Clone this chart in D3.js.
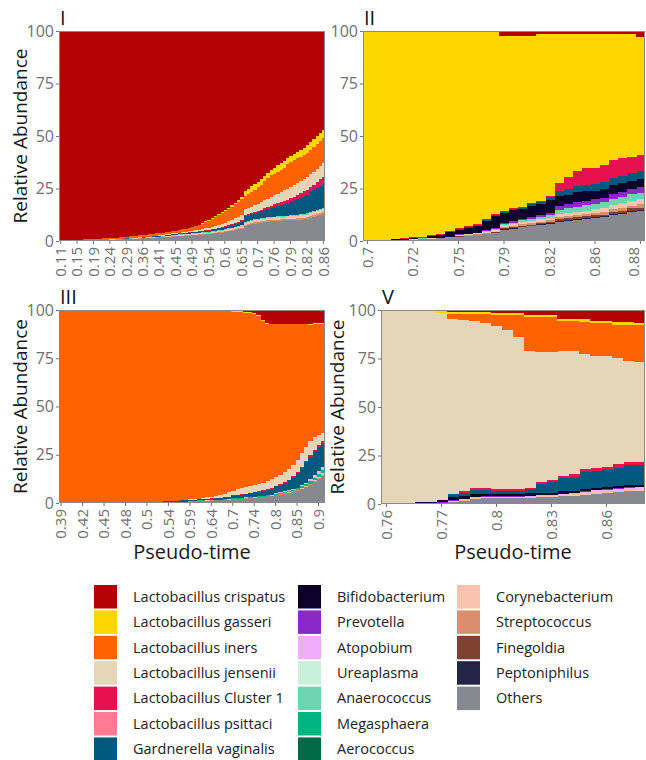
<!DOCTYPE html>
<html>
<head>
<meta charset="utf-8">
<script src="https://d3js.org/d3.v7.min.js"></script>
<style>
body { margin: 0; background: #fff; font-family: 'Open Sans', sans-serif; }
.bar { shape-rendering: crispEdges; }
.axis text { fill: #707070; font-family: 'Open Sans', sans-serif; }
.axis line { stroke: #707070; }
</style>
</head>
<body>
<svg width="646" height="760"></svg>
<script>

// legend order (top of the stack first)
var species = ["Lactobacillus crispatus", "Lactobacillus gasseri", "Lactobacillus iners",
  "Lactobacillus jensenii", "Lactobacillus Cluster 1", "Lactobacillus psittaci",
  "Gardnerella vaginalis", "Bifidobacterium", "Prevotella", "Atopobium", "Ureaplasma",
  "Anaerococcus", "Megasphaera", "Aerococcus", "Corynebacterium", "Streptococcus",
  "Finegoldia", "Peptoniphilus", "Others"];
var colors = ["#b40000", "#ffd700", "#ff6200", "#e6d6b8", "#e8114f", "#ff7a93",
  "#00587e", "#0a0228", "#8a28c8", "#efadfa", "#c9f0db", "#6fd3b1", "#00b482",
  "#006a47", "#f9c3ae", "#d98f6d", "#7f4230", "#242449", "#888891"];

// ---- panel I
var p1_ticks = ["0.11","0.15","0.19","0.24","0.29","0.36","0.41","0.45","0.49","0.54","0.6","0.65","0.7","0.76","0.79","0.82","0.86"];
var p1_others = [0.2,0.2,0.2,0.2,0.3,0.3,0.3,0.3,0.3,0.4, 0.4,0.4,0.5,0.5,0.5,0.6,0.6,0.7,0.7,0.8, 0.8,0.9,1,1,1.1,1.2,1.3,1.4,1.5,1.6, 1.7,1.8,1.9,2,2.1,2.2,2.3,2.4,2.5,2.6, 2.7,2.8,2.9,3,3.1,3.2,3.4,3.6,3.8,4, 4.3,4.6,4.9,5.2,5.5,5.9,7.2,7.6,8,8.3, 8.6,8.8,9,9.2,9.4,9.5,9.6,9.7,9.8,9.9, 10,10,10.1,10.2,10.4,10.6,11,11.5,12,12.5, 13];
var p1_strep = [0,0,0,0,0,0,0,0,0,0, 0,0,0,0,0,0.1,0.1,0.1,0.1,0.1, 0.1,0.1,0.1,0.1,0.1,0.1,0.1,0.1,0.1,0.1, 0.1,0.1,0.1,0.1,0.2,0.2,0.2,0.2,0.2,0.2, 0.2,0.2,0.2,0.3,0.3,0.3,0.3,0.3,0.4,0.4, 0.4,0.4,0.4,0.5,0.5,0.5,0.6,0.6,0.6,0.6, 0.6,0.6,0.6,0.6,0.6,0.6,0.6,0.6,0.6,0.6, 0.7,0.7,0.7,0.7,0.7,0.7,0.7,0.7,0.7,0.7, 0.8];
var p1_coryne = [0.1,0.1,0.1,0.1,0.1,0.1,0.1,0.1,0.1,0.1, 0.1,0.1,0.1,0.1,0.1,0.1,0.1,0.1,0.1,0.1, 0.1,0.1,0.1,0.1,0.1,0.2,0.2,0.2,0.2,0.2, 0.2,0.2,0.2,0.3,0.3,0.3,0.3,0.3,0.4,0.4, 0.4,0.4,0.5,0.5,0.5,0.5,0.6,0.6,0.6,0.6, 0.7,0.7,0.7,0.8,0.8,0.8,1,1,1,1, 1,1,1,1,1.1,1.1,1.1,1.1,1.2,1.2, 1.2,1.2,1.2,1.3,1.3,1.3,1.4,1.4,1.4,1.5, 1.5];
var p1_anaero = [0,0,0,0,0,0,0,0,0,0, 0,0,0,0,0,0,0,0,0,0, 0.1,0.1,0.1,0.1,0.1,0.1,0.1,0.1,0.1,0.1, 0.1,0.1,0.2,0.2,0.2,0.3,0.3,0.3,0.3,0.3, 0.3,0.3,0.3,0.3,0.3,0.3,0.3,0.3,0.3,0.3, 0.3,0.3,0.3,0.3,0.3,0.3,0.4,0.4,0.4,0.4, 0.4,0.4,0.4,0.4,0.4,0.4,0.4,0.4,0.4,0.4, 0.5,0.5,0.5,0.5,0.5,0.5,0.5,0.5,0.5,0.5, 0.5];
var p1_gard = [0,0,0,0,0,0,0,0,0,0, 0,0,0,0,0,0.1,0.1,0.1,0.1,0.1, 0.1,0.1,0.1,0.2,0.2,0.2,0.2,0.2,0.3,0.3, 0.3,0.3,0.3,0.3,0.4,0.4,0.4,0.4,0.5,0.5, 0.5,0.5,0.6,0.6,0.7,0.7,0.8,0.8,0.9,0.9, 1,1.1,1.3,1.4,1.6,1.8,2.5,2.6,2.7,2.8, 3,3.3,3.6,4,4.4,4.8,5.1,5.4,5.8,6.2, 6.5,7,7.5,8,8.5,9,9.5,10,10.5,11, 11.5];
var p1_clus1 = [0,0,0,0,0,0,0,0,0,0, 0,0,0,0,0,0,0,0,0,0, 0,0,0,0,0,0,0,0,0,0, 0.1,0.1,0.1,0.1,0.1,0.1,0.1,0.1,0.1,0.1, 0.2,0.2,0.2,0.2,0.3,0.3,0.3,0.3,0.3,0.3, 0.3,0.4,0.4,0.4,0.5,0.5,0.6,0.6,0.7,0.7, 0.8,0.8,0.9,0.9,1,1,1.1,1.2,1.3,1.4, 1.5,1.6,1.8,2,2.2,2.4,2.6,2.8,3,3.2, 3.3];
var p1_jens = [0,0,0,0,0,0,0,0,0,0, 0,0,0,0,0,0,0,0,0,0, 0.1,0.1,0.1,0.1,0.1,0.1,0.1,0.1,0.1,0.1, 0.2,0.2,0.3,0.3,0.3,0.4,0.4,0.5,0.5,0.6, 0.6,0.7,0.7,0.8,0.9,1,1.1,1.2,1.3,1.4, 1.6,1.8,2,2.2,2.4,2.5,2.8,2.9,3,3.2, 3.4,3.6,3.8,4,4.2,4.4,4.6,4.8,5,5.2, 5.4,5.5,5.6,5.7,5.8,5.9,6,6.1,6.3,6.4, 6.5];
var p1_iners = [0.2,0.2,0.2,0.3,0.2,0.3,0.3,0.4,0.4,0.4, 0.5,0.5,0.5,0.6,0.7,0.5,0.6,0.6,0.8,0.8, 0.7,0.8,0.8,0.9,1,1,1,1.1,1.1,1.2, 1,1.1,1,1.1,1.1,1,1.2,1.3,1.3,1.5, 1.6,2,2.2,2.6,2.9,3.4,3.8,4.5,4.7,5.4, 5.7,5.9,6.4,6.7,7.1,7.7,6.4,6.8,7.1,7.5, 7.7,8.4,9.1,9.7,10.1,10.3,10.5,10.8,10.9,11.6, 11.7,11.9,11.9,11.8,11.7,11.6,11.7,11.8,11.8,11.8, 11.9];
var p1_gasseri = [0,0,0,0,0,0,0,0,0,0, 0,0,0,0,0,0,0,0,0,0, 0,0,0,0,0,0,0,0,0,0, 0.1,0.1,0.1,0.1,0.1,0.1,0.1,0.1,0.1,0.1, 0.1,0.1,0.2,0.2,0.3,0.3,0.4,0.4,0.5,0.5, 0.5,0.6,0.6,0.7,0.8,1,2.5,2.5,2.5,2.5, 2.5,2.6,2.6,2.7,2.8,2.9,3,3,3,3, 3,3.1,3.2,3.3,3.4,3.5,3.6,3.7,3.8,3.9, 4];
var p1_crispatus = [99.5,99.5,99.5,99.4,99.4,99.3,99.3,99.2,99.2,99.1, 99,99,98.9,98.8,98.7,98.6,98.5,98.4,98.2,98.1, 98,97.8,97.7,97.5,97.3,97.1,97,96.8,96.6,96.4, 96.2,96,95.8,95.5,95.2,95,94.7,94.4,94.1,93.7, 93.4,92.8,92.2,91.5,90.7,90,89,88,87.2,86.2, 85.2,84.2,83,81.8,80.5,79,76,75,74,73, 72,70.5,69,67.5,66,65,64,63,62,60.5, 59.5,58.5,57.5,56.5,55.5,54.5,53,51.5,50,48.5, 47];

// ---- panel II
var p2_ticks = ["0.7","0.72","0.75","0.79","0.82","0.86","0.88"];
var p2_others = [0.2,0.2,0.3,0.4,0.5,0.6,0.8,1,1.2,1.6, 2,2.4,2.8,3.3,4, 5.2,5.8,6.5,7,7.6,8.3, 9.2,9.6,10,10.4,10.8,11.2,12.4,13,14,14.4];
var p2_pept = [0,0,0,0,0,0,0,0,0,0, 0,0,0,0,0, 0.3,0.3,0.3,0.3,0.3,0.3, 0.5,0.5,0.5,0.5,0.5,0.5,0.5,0.5,0.5,0.5];
var p2_fineg = [0,0,0,0,0,0,0,0,0,0, 0.2,0.2,0.2,0.2,0.2, 0.5,0.5,0.5,0.5,0.5,0.5, 0.8,0.8,0.8,0.8,0.9,0.9,1,1,1,1];
var p2_strep = [0,0,0,0,0,0.1,0.1,0.1,0.1,0.1, 0.3,0.3,0.3,0.3,0.3, 0.6,0.6,0.7,0.7,0.8,0.8, 1,1,1,1,1.1,1.1,1.2,1.3,1.4,1.5];
var p2_coryne = [0,0,0,0,0,0.2,0.2,0.2,0.2,0.2, 0.4,0.4,0.5,0.5,0.6, 0.8,0.9,1,1,1.1,1.2, 1.5,1.6,1.7,1.8,1.9,2,2.1,2.2,2.3,2.4];
var p2_anaero = [0.2,0.2,0.2,0.2,0.2,0.1,0.1,0.1,0.1,0.1, 0.1,0.1,0.1,0.5,0.5, 0.6,0.7,0.8,0.9,1,1.2, 2,2.2,2.4,2.5,2.6,2.7,2.8,3,3,3.2];
var p2_prevo = [0,0,0,0,0,0,0,0,0,0, 0.1,0.1,0.1,0.3,0.5, 0.5,0.6,0.7,0.8,0.9,1.2, 1.6,1.8,2,2,2.1,2.2,2.3,2.4,2.4,2.5];
var p2_bifido = [0,0,0.2,0.2,0.2,0.2,0.2,1,1.1,2.2, 2.2,2.9,3.3,4.3,5.8, 4.9,5.2,4.7,5.4,5.4,5.8, 4.7,4.6,4.8,4.6,4.1,4.4,4.6,4.2,4.2,4.1];
var p2_gard = [0,0,0,0,0,0,0,0.1,0.2,0.2, 0.3,0.3,0.3,0.4,0.5, 0.6,0.6,0.7,0.8,0.9,1.5, 2.5,2.5,2.8,3,3,3,3.2,3.3,3.4,3.5];
var p2_clus1 = [0,0,0,0,0.3,0.5,0.4,0.3,0.3,0.4, 0.4,0.4,0.4,0.5,0.5, 0.4,0.4,0.4,0.5,0.5,0.6, 4,6,7.5,8,8,8,8.5,8.5,8,8];
var p2_gasseri = [99.6,99.6,99.3,99.2,99,98.5,98.2,97.2,96.8,95.2, 94,92.9,91.4,89.1,86.5, 83.2,82,81.3,79.7,79.4,77, 70.6,67.8,64.9,63.8,63.4,62.4,59.8,59,58.2,56];
var p2_crispatus = [0,0,0,0,0,0,0,0,0,0, 0,0,0.6,0.6,0.6, 2.4,2.4,2.4,2.4,1.6,1.6, 1.6,1.6,1.6,1.6,1.6,1.6,1.6,1.6,1.6,2.9];

// ---- panel III
var p3_ticks = ["0.39","0.42","0.45","0.48","0.5","0.54","0.59","0.64","0.7","0.74","0.8","0.85","0.9"];
var p3_others = [0,0,0,0,0,0,0,0,0,0, 0,0,0,0.1,0.1,0.1,0.1,0.1,0.1,0.1, 0.2,0.2,0.3,0.3,0.4,0.4,0.5,0.5,0.6,0.6, 0.7,0.8,0.9,1,1.1,1.2,1.3,1.4,1.5,1.7, 1.9,2,2.1,2.3,2.5,2.7,2.9,3.1,3.4,3.7, 4,4.4,4.8,5.2,5.8,6.4,7.2,8.2,9.3,10.8, 12.5,14];
var p3_strep = [0,0,0,0,0,0,0,0,0,0, 0,0,0,0,0,0,0,0,0,0, 0,0,0,0,0,0,0,0,0,0, 0.1,0.1,0.1,0.1,0.1,0.1,0.1,0.1,0.1,0.1, 0.1,0.1,0.1,0.1,0.1,0.1,0.1,0.1,0.1,0.1, 0.2,0.2,0.2,0.2,0.2,0.2,0.3,0.3,0.4,0.5, 0.6,0.7];
var p3_coryne = [0,0,0,0,0,0,0,0,0,0, 0,0,0,0,0,0,0,0,0,0, 0,0,0,0,0,0,0,0,0,0, 0.1,0.1,0.1,0.1,0.1,0.1,0.1,0.1,0.1,0.1, 0.1,0.1,0.1,0.1,0.1,0.1,0.1,0.1,0.1,0.1, 0.2,0.2,0.2,0.2,0.2,0.2,0.3,0.3,0.4,0.4, 0.5,0.6];
var p3_megas = [0,0,0,0,0,0,0,0,0,0, 0,0,0,0,0,0,0,0,0,0, 0.1,0.1,0.1,0.1,0.1,0.1,0.1,0.1,0.1,0.1, 0.2,0.2,0.2,0.2,0.2,0.2,0.2,0.2,0.2,0.2, 0.3,0.3,0.3,0.3,0.3,0.3,0.3,0.3,0.3,0.3, 0.5,0.5,0.6,0.6,0.7,0.8,1,1.1,1.3,1.4, 1.6,1.7];
var p3_atop = [0,0,0,0,0,0,0,0,0,0, 0,0,0,0,0,0,0,0,0,0, 0,0,0,0,0,0,0,0,0,0, 0,0,0,0,0,0,0,0,0,0, 0.1,0.1,0.1,0.1,0.1,0.1,0.1,0.1,0.1,0.1, 0.2,0.2,0.3,0.3,0.4,0.4,0.5,0.6,0.8,1.2, 1.6,1.8];
var p3_gard = [0.1,0.1,0.1,0.1,0.1,0.1,0.1,0.1,0.1,0.1, 0.1,0.1,0.2,0.2,0.3,0.3,0.3,0.2,0.2,0.2, 0.1,0.2,0.2,0.3,0.3,0.4,0.4,0.5,0.6,0.7, 0.5,0.5,0.6,0.6,0.7,0.7,0.8,0.9,1,1.1, 1.3,1.4,1.6,1.8,2,2.2,2.4,2.6,2.9,3.2, 3.6,4,4.5,5.2,6,7.5,9,10.5,11.8,12.5, 12.3,12];
var p3_clus1 = [0,0,0,0,0,0,0,0,0,0, 0,0,0,0,0,0,0,0,0,0, 0,0,0,0,0,0,0,0,0,0, 0.1,0.1,0.1,0.1,0.1,0.1,0.1,0.1,0.1,0.1, 0.2,0.2,0.2,0.2,0.2,0.2,0.2,0.2,0.2,0.2, 0.3,0.3,0.4,0.4,0.5,0.5,0.6,0.7,0.8,0.9, 1,1.2];
var p3_jens = [0,0,0,0,0,0,0,0,0,0, 0,0,0,0,0,0,0,0,0,0, 0,0,0,0,0,0,0,0.1,0.1,0.2, 0.2,0.3,0.3,0.5,0.6,0.9,1.1,1.4,1.8,2.2, 2.4,2.8,3.1,3.3,3.5,3.6,3.7,3.9,4.3,4.6, 4.3,4.7,5.2,5.7,5.9,6.5,6.8,7.3,7.2,6.6, 5.1,4.4];
var p3_iners = [99.9,99.9,99.9,99.9,99.9,99.9,99.9,99.9,99.9,99.9, 99.9,99.9,99.8,99.7,99.6,99.6,99.6,99.7,99.7,99.7, 99.6,99.5,99.4,99.3,99.2,99.1,99,98.8,98.6,98.4, 97.8,97.6,97.4,97.1,96.8,96.4,96,95.5,94.9,94.2, 92.8,92,91.3,90.5,89.7,88.7,87.2,84.1,81.6,80.2, 79.2,78,76.3,74.7,72.8,70,66.8,63.5,60.2,58.4, 57.8,56.6];
var p3_gasseri = [0,0,0,0,0,0,0,0,0,0, 0,0,0,0,0,0,0,0,0,0, 0,0,0,0,0,0,0,0,0,0, 0.3,0.3,0.3,0.3,0.3,0.3,0.3,0.3,0.3,0.3, 0.5,0.5,0.5,0.5,0.5,0.5,0.5,0.5,0.5,0.5, 0.5,0.5,0.5,0.5,0.5,0.5,0.5,0.5,0.5,0.5, 0.5,0.5];
var p3_crispatus = [0,0,0,0,0,0,0,0,0,0, 0,0,0,0,0,0,0,0,0,0, 0,0,0,0,0,0,0,0,0,0, 0,0,0,0,0,0,0,0,0,0, 0.3,0.5,0.6,0.8,1,1.5,2.5,5,6.5,7, 7,7,7,7,7,7,7,7,7.3,6.8, 6.5,6.5];

// ---- panel V
var p5_ticks = ["0.76","0.77","0.8","0.83","0.86"];
var p5_others = [0.2,0.2,0.2,0.3,0.4,0.5,1.2,1.8,2.8,3, 3,3,3,3.2,3.4,3.6,4,4.3,4.8,5.2, 5.6,6,6.5,6.7];
var p5_coryne = [0,0,0,0,0,0.1,0.3,0.4,0.5,0.5, 0.5,0.5,0.5,0.6,0.6,0.6,0.7,0.7,0.7,0.8, 0.8,0.8,0.8,0.8];
var p5_atop = [0,0,0,0,0,0.1,0.2,0.3,0.3,0.3, 0.3,0.3,0.3,0.3,0.4,0.4,0.5,0.6,0.8,1, 1,1.1,1.2,1.2];
var p5_prevo = [0,0,0,0.4,0.3,0.3,0.2,0.2,0.2,0.2, 0.2,0.2,0.2,0.2,0.2,0.2,0.2,0.2,0.2,0.2, 0.2,0.2,0.2,0.2];
var p5_bifido = [0,0,0.4,0.3,0.3,0.9,1.5,1.2,1.3,1.2, 1.2,1.2,1.2,1.2,1.1,1.1,1.1,1.1,1,1, 1,1,1,1];
var p5_gard = [0,0,0,0,0,0.1,1.5,2,2,1.9, 1.6,1.5,1.5,2,4.4,5.5,6.7,7.2,9,8.8, 9.1,9.7,10.3,10];
var p5_clus1 = [0,0,0,0,0,0,0.1,1,1.1,1, 0.9,0.9,0.9,0.9,1,1,1.2,1.2,1.4,1.4, 1.5,1.6,1.6,1.7];
var p5_jens = [99.8,99.8,99.4,99,98.7,96.3,90.5,87.7,85.9,85.1, 84,81.9,78.4,70.6,67.4,65.7,64.4,63.5,59.2,58, 57,54.8,52.1,51.7];
var p5_iners = [0,0,0,0,0,0,2.5,3.4,3.9,4.8, 5.8,7.9,11.4,17.5,17.9,18.1,15.7,15.5,16.9,16.9, 16.9,17.2,18.5,18.8];
var p5_gasseri = [0,0,0,0,0.3,1.7,1.2,1.2,1.2,1.1, 1,1,1,1,1,1,1,1.1,1.2,1.2, 1.3,1.3,1.4,1.4];
var p5_crispatus = [0,0,0,0,0,0,0.8,0.8,0.8,0.9, 1.5,1.6,1.6,2.5,2.6,2.8,4.5,4.6,4.8,5.5, 5.6,6.3,6.4,6.5];

var panels = [
  { name: "I", left: 59, right: 325, top: 31, bottom: 241, ticks: p1_ticks, yTitle: 27, xTitle: false,
    series: [["Others", p1_others], ["Streptococcus", p1_strep], ["Corynebacterium", p1_coryne],
      ["Anaerococcus", p1_anaero], ["Gardnerella vaginalis", p1_gard], ["Lactobacillus Cluster 1", p1_clus1],
      ["Lactobacillus jensenii", p1_jens], ["Lactobacillus iners", p1_iners],
      ["Lactobacillus gasseri", p1_gasseri], ["Lactobacillus crispatus", p1_crispatus]] },
  { name: "II", left: 363, right: 645, top: 31, bottom: 241, ticks: p2_ticks, yTitle: null, xTitle: false,
    series: [["Others", p2_others], ["Peptoniphilus", p2_pept], ["Finegoldia", p2_fineg],
      ["Streptococcus", p2_strep], ["Corynebacterium", p2_coryne], ["Anaerococcus", p2_anaero],
      ["Prevotella", p2_prevo], ["Bifidobacterium", p2_bifido], ["Gardnerella vaginalis", p2_gard],
      ["Lactobacillus Cluster 1", p2_clus1], ["Lactobacillus gasseri", p2_gasseri],
      ["Lactobacillus crispatus", p2_crispatus]] },
  { name: "III", left: 59, right: 325, top: 310, bottom: 503, ticks: p3_ticks, yTitle: 27, xTitle: true,
    series: [["Others", p3_others], ["Streptococcus", p3_strep], ["Corynebacterium", p3_coryne],
      ["Megasphaera", p3_megas], ["Atopobium", p3_atop], ["Gardnerella vaginalis", p3_gard],
      ["Lactobacillus Cluster 1", p3_clus1], ["Lactobacillus jensenii", p3_jens],
      ["Lactobacillus iners", p3_iners], ["Lactobacillus gasseri", p3_gasseri],
      ["Lactobacillus crispatus", p3_crispatus]] },
  { name: "V", left: 381, right: 645, top: 310, bottom: 504, ticks: p5_ticks, yTitle: 344, xTitle: true,
    series: [["Others", p5_others], ["Corynebacterium", p5_coryne], ["Atopobium", p5_atop],
      ["Prevotella", p5_prevo], ["Bifidobacterium", p5_bifido], ["Gardnerella vaginalis", p5_gard],
      ["Lactobacillus Cluster 1", p5_clus1], ["Lactobacillus jensenii", p5_jens],
      ["Lactobacillus iners", p5_iners], ["Lactobacillus gasseri", p5_gasseri],
      ["Lactobacillus crispatus", p5_crispatus]] }
];

var color = d3.scaleOrdinal().domain(species).range(colors);
// bottom of the stack is the last legend entry
var stackKeys = species.slice().reverse();

var svg = d3.select('svg');

panels.forEach(function(p) {
  var n = p.series[0][1].length;

  // one row per sample, every species present (0 when absent)
  var rows = d3.range(n).map(function(i) {
    var row = {};
    species.forEach(function(s) { row[s] = 0; });
    p.series.forEach(function(s) { row[s[0]] = s[1][i]; });
    return row;
  });

  var stacked = d3.stack()
    .keys(stackKeys)
    .offset(d3.stackOffsetExpand)(rows);

  var x = d3.scaleBand()
    .domain(d3.range(n))
    .range([p.left, p.right])
    .padding(0);

  var y = d3.scaleLinear()
    .domain([0, 1])
    .range([p.bottom, p.top]);

  var g = svg.append('g');

  g.append('clipPath').attr('id', 'clip-' + p.name)
    .append('rect')
    .attr('x', p.left).attr('y', p.top)
    .attr('width', p.right - p.left).attr('height', p.bottom - p.top);

  g.append('g')
    .attr('clip-path', 'url(#clip-' + p.name + ')')
    .selectAll('g')
    .data(stacked)
    .enter().append('g')
      .attr('fill', function(d) { return color(d.key); })
    .selectAll('rect')
    .data(function(d) { return d; })
    .enter().append('rect')
      .attr('class', 'bar')
      .attr('x', function(d, i) { return x(i); })
      .attr('width', x.bandwidth() + 0.6)
      .attr('y', function(d) { return y(d[1]); })
      .attr('height', function(d) { return Math.max(0, y(d[0]) - y(d[1])); });

  // panel border
  g.append('rect')
    .attr('x', p.left + 0.5).attr('y', p.top + 0.5)
    .attr('width', p.right - p.left - 1).attr('height', p.bottom - p.top - 1)
    .attr('fill', 'none')
    .attr('stroke', '#8a8a8a')
    .attr('stroke-width', 1);

  // y axis
  var yAxis = d3.axisLeft(y)
    .tickValues([0, 0.25, 0.5, 0.75, 1])
    .tickFormat(function(d) { return Math.round(d * 100); })
    .tickSize(3)
    .tickPadding(2);

  var ya = g.append('g')
    .attr('class', 'axis')
    .attr('transform', 'translate(' + p.left + ',0)')
    .call(yAxis);
  ya.select('.domain').remove();
  ya.selectAll('text').attr('font-size', 16);

  // x axis, one label every 5 samples
  var xAxis = d3.axisBottom(x)
    .tickValues(d3.range(0, n, 5))
    .tickFormat(function(i) { return p.ticks[i / 5]; })
    .tickSize(3);

  var xa = g.append('g')
    .attr('class', 'axis')
    .attr('transform', 'translate(0,' + p.bottom + ')')
    .call(xAxis);
  xa.select('.domain').remove();
  xa.selectAll('text')
    .attr('font-size', 15)
    .attr('y', function(i) {
      // keep the last label inside the page
      var cx = x(i) + x.bandwidth() / 2;
      return cx > 634 ? 634 - cx : 0;
    })
    .attr('x', -6)
    .attr('dy', '0.35em')
    .attr('transform', 'rotate(-90)')
    .style('text-anchor', 'end');

  // panel label
  g.append('text')
    .attr('x', p.left + 1)
    .attr('y', p.top - 6)
    .attr('font-size', 20)
    .attr('fill', '#111')
    .text(p.name);

  if (p.yTitle) {
    g.append('text')
      .attr('transform', 'translate(' + p.yTitle + ',' + ((p.top + p.bottom) / 2) + ')rotate(-90)')
      .attr('text-anchor', 'middle')
      .attr('font-size', 19)
      .attr('fill', '#1a1a1a')
      .text('Relative Abundance');
  }

  if (p.xTitle) {
    g.append('text')
      .attr('x', (p.left + p.right) / 2)
      .attr('y', 559)
      .attr('text-anchor', 'middle')
      .attr('font-size', 20)
      .attr('fill', '#1a1a1a')
      .text('Pseudo-time');
  }
});

// legend, three columns
var legendCols = [{ x: 94, start: 0, count: 7 }, { x: 298, start: 7, count: 7 }, { x: 457, start: 14, count: 5 }];

legendCols.forEach(function(c) {
  var items = species.slice(c.start, c.start + c.count);
  var lg = svg.append('g')
    .selectAll('g')
    .data(items)
    .enter().append('g')
      .attr('transform', function(d, i) { return 'translate(' + c.x + ',' + (585 + i * 25.4) + ')'; });

  lg.append('rect')
    .attr('width', 23)
    .attr('height', 23.5)
    .attr('fill', function(d) { return color(d); });

  lg.append('text')
    .attr('x', 39)
    .attr('y', 11.75)
    .attr('dy', '0.35em')
    .attr('font-size', 14.5)
    .attr('fill', '#222')
    .text(function(d) { return d; });
});

</script>
</body>
</html>
